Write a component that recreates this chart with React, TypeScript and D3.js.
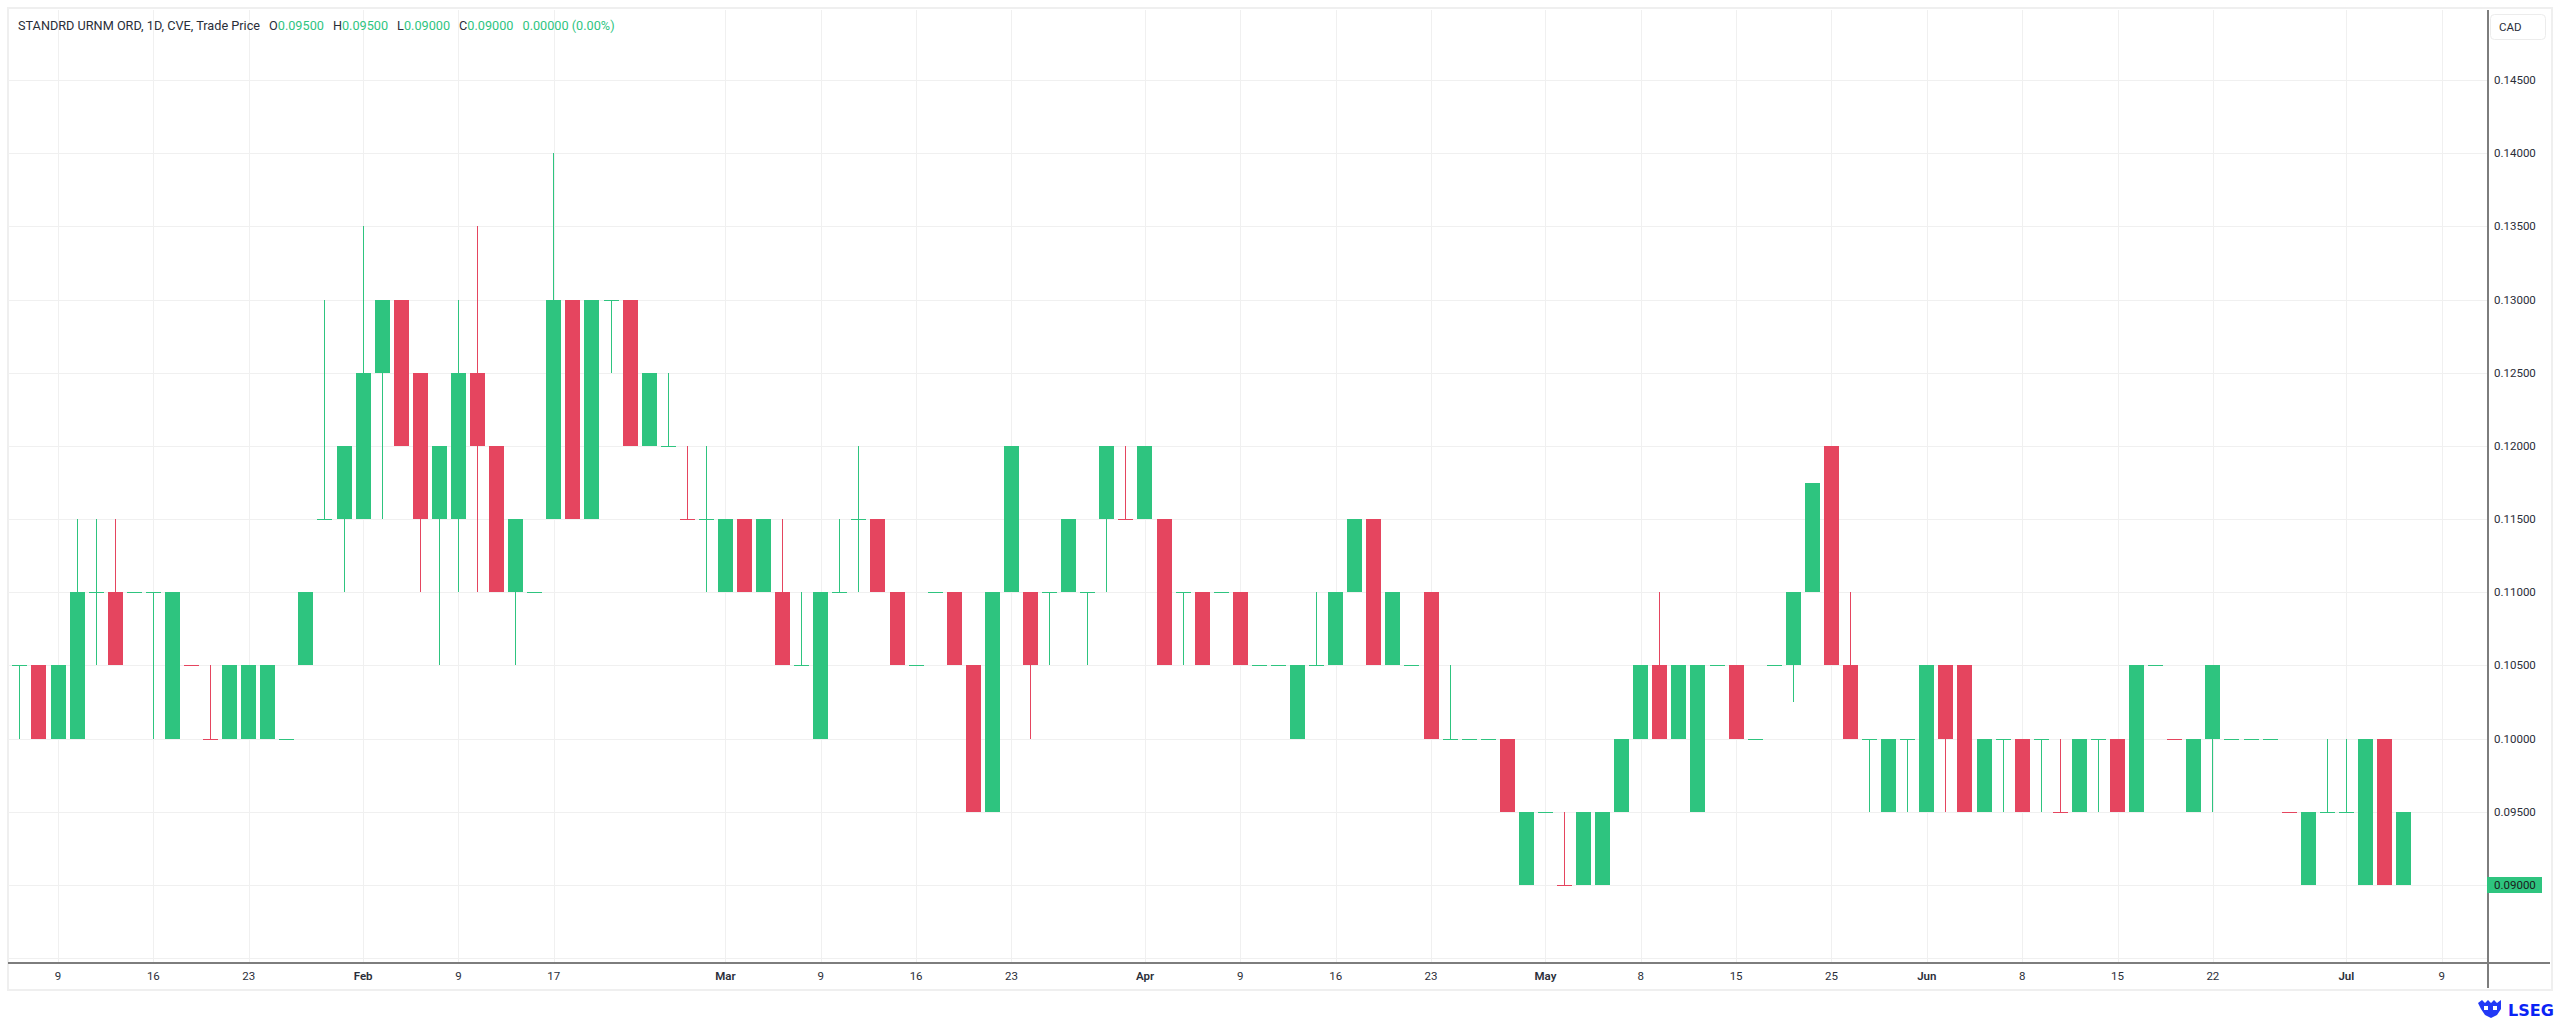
import React from "react";
import * as d3 from "d3";

// ---- data (CVE: STANDRD URNM ORD, daily, 2026) ----
const dates = [
  "2026-01-07","2026-01-08","2026-01-09","2026-01-12","2026-01-13","2026-01-14","2026-01-15","2026-01-16",
  "2026-01-19","2026-01-20","2026-01-21","2026-01-22","2026-01-23","2026-01-26","2026-01-27","2026-01-28",
  "2026-01-29","2026-01-30","2026-02-02","2026-02-03","2026-02-04","2026-02-05","2026-02-06","2026-02-09",
  "2026-02-10","2026-02-11","2026-02-12","2026-02-13","2026-02-17","2026-02-18","2026-02-19","2026-02-20",
  "2026-02-23","2026-02-24","2026-02-25","2026-02-26","2026-02-27","2026-03-02","2026-03-03","2026-03-04",
  "2026-03-05","2026-03-06","2026-03-09","2026-03-10","2026-03-11","2026-03-12","2026-03-13","2026-03-16",
  "2026-03-17","2026-03-18","2026-03-19","2026-03-20","2026-03-23","2026-03-24","2026-03-25","2026-03-26",
  "2026-03-27","2026-03-30","2026-03-31","2026-04-01","2026-04-02","2026-04-06","2026-04-07","2026-04-08",
  "2026-04-09","2026-04-10","2026-04-13","2026-04-14","2026-04-15","2026-04-16","2026-04-17","2026-04-20",
  "2026-04-21","2026-04-22","2026-04-23","2026-04-24","2026-04-27","2026-04-28","2026-04-29","2026-04-30",
  "2026-05-01","2026-05-04","2026-05-05","2026-05-06","2026-05-07","2026-05-08","2026-05-11","2026-05-12",
  "2026-05-13","2026-05-14","2026-05-15","2026-05-19","2026-05-20","2026-05-21","2026-05-22","2026-05-25",
  "2026-05-26","2026-05-27","2026-05-28","2026-05-29","2026-06-01","2026-06-02","2026-06-03","2026-06-04",
  "2026-06-05","2026-06-08","2026-06-09","2026-06-10","2026-06-11","2026-06-12","2026-06-15","2026-06-16",
  "2026-06-17","2026-06-18","2026-06-19","2026-06-22","2026-06-23","2026-06-24","2026-06-25","2026-06-26",
  "2026-06-29","2026-06-30","2026-07-02","2026-07-03","2026-07-06","2026-07-07",
];

const opens = [
  0.105,0.105,0.100,0.100,0.110,0.110,0.110,0.110,
  0.100,0.105,0.100,0.105,0.105,0.105,0.100,0.105,
  0.115,0.115,0.115,0.125,0.130,0.125,0.115,0.115,
  0.125,0.120,0.115,0.110,0.115,0.130,0.115,0.130,
  0.130,0.125,0.120,0.115,0.115,0.110,0.115,0.110,
  0.110,0.105,0.100,0.110,0.115,0.115,0.110,0.105,
  0.110,0.110,0.105,0.095,0.110,0.110,0.110,0.115,
  0.110,0.115,0.115,0.115,0.115,0.110,0.110,0.110,
  0.110,0.105,0.105,0.100,0.105,0.105,0.110,0.115,
  0.110,0.105,0.110,0.100,0.100,0.100,0.100,0.090,
  0.095,0.090,0.090,0.090,0.095,0.100,0.105,0.100,
  0.095,0.105,0.105,0.100,0.105,0.105,0.110,0.120,
  0.105,0.100,0.095,0.100,0.095,0.105,0.105,0.095,
  0.100,0.100,0.100,0.095,0.095,0.100,0.100,0.095,
  0.105,0.100,0.095,0.105,0.100,0.100,0.100,0.095,
  0.090,0.095,0.095,0.090,0.100,0.095,
];

const highs = [
  0.105,0.105,0.105,0.115,0.115,0.115,0.110,0.110,
  0.110,0.105,0.105,0.105,0.105,0.105,0.100,0.110,
  0.130,0.120,0.135,0.130,0.130,0.125,0.120,0.130,
  0.135,0.120,0.115,0.110,0.140,0.130,0.130,0.130,
  0.130,0.125,0.125,0.120,0.120,0.115,0.115,0.115,
  0.115,0.110,0.110,0.115,0.120,0.115,0.110,0.105,
  0.110,0.110,0.105,0.110,0.120,0.110,0.110,0.115,
  0.110,0.120,0.120,0.120,0.115,0.110,0.110,0.110,
  0.110,0.105,0.105,0.105,0.110,0.110,0.115,0.115,
  0.110,0.105,0.110,0.105,0.100,0.100,0.100,0.095,
  0.095,0.095,0.095,0.095,0.100,0.105,0.110,0.105,
  0.105,0.105,0.105,0.100,0.105,0.110,0.1175,0.120,
  0.110,0.100,0.100,0.100,0.105,0.105,0.105,0.100,
  0.100,0.100,0.100,0.100,0.100,0.100,0.100,0.105,
  0.105,0.100,0.100,0.105,0.100,0.100,0.100,0.095,
  0.095,0.100,0.100,0.100,0.100,0.095,
];

const lows = [
  0.100,0.100,0.100,0.100,0.105,0.105,0.110,0.100,
  0.100,0.105,0.100,0.100,0.100,0.100,0.100,0.105,
  0.115,0.110,0.115,0.115,0.120,0.110,0.105,0.110,
  0.110,0.110,0.105,0.110,0.115,0.115,0.115,0.125,
  0.120,0.120,0.120,0.115,0.110,0.110,0.110,0.110,
  0.105,0.105,0.100,0.110,0.110,0.110,0.105,0.105,
  0.110,0.105,0.095,0.095,0.110,0.100,0.105,0.110,
  0.105,0.110,0.115,0.115,0.105,0.105,0.105,0.110,
  0.105,0.105,0.105,0.100,0.105,0.105,0.110,0.105,
  0.105,0.105,0.100,0.100,0.100,0.100,0.095,0.090,
  0.095,0.090,0.090,0.090,0.095,0.100,0.100,0.100,
  0.095,0.105,0.100,0.100,0.105,0.1025,0.110,0.105,
  0.100,0.095,0.095,0.095,0.095,0.095,0.095,0.095,
  0.095,0.095,0.095,0.095,0.095,0.095,0.095,0.095,
  0.105,0.100,0.095,0.095,0.100,0.100,0.100,0.095,
  0.090,0.095,0.095,0.090,0.090,0.090,
];

const closes = [
  0.105,0.100,0.105,0.110,0.110,0.105,0.110,0.110,
  0.110,0.105,0.100,0.100,0.100,0.100,0.100,0.110,
  0.115,0.120,0.125,0.130,0.120,0.115,0.120,0.125,
  0.120,0.110,0.110,0.110,0.130,0.115,0.130,0.130,
  0.120,0.120,0.120,0.115,0.115,0.115,0.110,0.115,
  0.105,0.105,0.110,0.110,0.115,0.110,0.105,0.105,
  0.110,0.105,0.095,0.110,0.120,0.105,0.110,0.110,
  0.110,0.120,0.115,0.120,0.105,0.110,0.105,0.110,
  0.105,0.105,0.105,0.105,0.105,0.110,0.115,0.105,
  0.105,0.105,0.100,0.100,0.100,0.100,0.095,0.095,
  0.095,0.090,0.095,0.095,0.100,0.105,0.100,0.105,
  0.105,0.105,0.100,0.100,0.105,0.110,0.1175,0.105,
  0.100,0.100,0.100,0.100,0.105,0.100,0.095,0.100,
  0.100,0.095,0.100,0.095,0.100,0.100,0.095,0.105,
  0.105,0.100,0.100,0.100,0.100,0.100,0.100,0.095,
  0.095,0.095,0.095,0.100,0.090,0.090,
];

// sessions after the last bar that the time axis still covers
const futureSessions = ["2026-07-08", "2026-07-09"];

const tickDates = [
  "2026-01-09","2026-01-16","2026-01-23","2026-02-02","2026-02-09","2026-02-17","2026-03-02","2026-03-09",
  "2026-03-16","2026-03-23","2026-04-01","2026-04-09","2026-04-16","2026-04-23","2026-05-01","2026-05-08",
  "2026-05-15","2026-05-25","2026-06-01","2026-06-08","2026-06-15","2026-06-22","2026-07-02","2026-07-09",
];
const tickLabels = [
  "9","16","23","Feb","9","17","Mar","9","16","23","Apr","9","16","23","May","8","15","25","Jun","8","15","22","Jul","9",
];
const monthLabels = ["Jan","Feb","Mar","Apr","May","Jun","Jul","Aug","Sep","Oct","Nov","Dec"];

const priceTicks = [0.085,0.09,0.095,0.1,0.105,0.11,0.115,0.12,0.125,0.13,0.135,0.14,0.145,0.15];
const priceLabelTicks = [0.095,0.1,0.105,0.11,0.115,0.12,0.125,0.13,0.135,0.14,0.145];

const instrument = "STANDRD URNM ORD, 1D, CVE, Trade Price";
const currency = "CAD";

// ---- layout ----
const W = 2560;
const H = 1021;
const plotLeft = 8;
const plotTop = 10;
const plotRight = 2487;
const plotBottom = 962;
const frameRight = 2550;
const frameBottom = 988;

const UP = "#2ec47f";
const DOWN = "#e5455f";
const GRID = "#f0f0f0";
const AXIS = "#7d7d7d";
const TEXT = "#2a2e39";
const FONT = "Roboto, 'Noto Sans', sans-serif";

export default function App() {
  const sessions = [...dates, ...futureSessions];
  const idx = new Map(sessions.map((d, i) => [d, i] as [string, number]));

  const x = d3
    .scaleLinear()
    .domain([idx.get("2026-01-09")!, idx.get("2026-07-09")!])
    .range([58, 2441.7]);
  const y = d3.scaleLinear().domain([0.09, 0.145]).range([885, 80]);

  const fmt = d3.format(".5f");
  const bodyW = 15;

  const bars = dates.map((d, i) => {
    const prev = i > 0 ? closes[i - 1] : closes[i];
    const up = closes[i] >= prev;
    return { d, i, o: opens[i], h: highs[i], l: lows[i], c: closes[i], up };
  });

  const last = bars[bars.length - 1];
  const prevClose = closes[closes.length - 2];
  const chg = last.c - prevClose;
  const chgPct = (chg / prevClose) * 100;
  const headColor = chg >= 0 ? UP : DOWN;

  return (
    <svg
      width={W}
      height={H}
      viewBox={`0 0 ${W} ${H}`}
      style={{ position: "absolute", left: 0, top: 0, display: "block", background: "#ffffff" }}
      fontFamily={FONT}
    >
      <rect x={0} y={0} width={W} height={H} fill="#ffffff" />
      {/* widget frame */}
      <rect x={8} y={8} width={frameRight - 8 + 2} height={frameBottom - 8 + 2} fill="none" stroke="#efefef" strokeWidth={2} />

      {/* grid */}
      <g shapeRendering="crispEdges">
        {tickDates.map((td) => {
          const xx = Math.round(x(idx.get(td)!)) + 0.5;
          return <line key={"vg" + td} x1={xx} x2={xx} y1={plotTop} y2={plotBottom} stroke={GRID} strokeWidth={1} />;
        })}
        {priceTicks
          .filter((p) => y(p) > plotTop && y(p) < plotBottom)
          .map((p) => {
            const yy = Math.round(y(p)) + 0.5;
            return <line key={"hg" + p} x1={plotLeft} x2={plotRight} y1={yy} y2={yy} stroke={GRID} strokeWidth={1} />;
          })}
      </g>

      {/* candles */}
      <g shapeRendering="crispEdges">
        {bars.map((b) => {
          const cx = Math.round(x(b.i) - 0.5);
          const col = b.up ? UP : DOWN;
          const top = Math.round(y(Math.max(b.o, b.c)));
          const bot = Math.round(y(Math.min(b.o, b.c)));
          const hT = Math.round(y(b.h));
          const lB = Math.round(y(b.l));
          return (
            <g key={b.d}>
              {lB > hT && <rect x={cx} y={hT} width={1} height={lB - hT} fill={col} />}
              <rect x={cx - (bodyW - 1) / 2} y={top} width={bodyW} height={Math.max(1, bot - top)} fill={col} />
            </g>
          );
        })}
      </g>

      {/* axes lines */}
      <g shapeRendering="crispEdges">
        <rect x={plotLeft} y={plotBottom} width={frameRight - plotLeft} height={2} fill={AXIS} />
        <rect x={plotRight} y={plotTop} width={1.5} height={frameBottom - plotTop} fill={AXIS} />
      </g>

      {/* time axis labels */}
      <g fontSize={11.5} fill={TEXT} textAnchor="middle">
        {tickDates.map((td, k) => {
          const isMonth = monthLabels.includes(tickLabels[k]);
          return (
            <text key={"tl" + td} x={x(idx.get(td)!)} y={980} fontWeight={isMonth ? 600 : 400}>
              {tickLabels[k]}
            </text>
          );
        })}
      </g>

      {/* price axis labels */}
      <g fontSize={11.5} fill={TEXT}>
        {priceLabelTicks.map((p) => (
          <text key={"pl" + p} x={2494} y={y(p)} dy="0.35em">
            {fmt(p)}
          </text>
        ))}
      </g>

      {/* last price tag */}
      <rect x={plotRight} y={y(last.c) - 8} width={55} height={16} fill={headColor} />
      <text x={2494} y={y(last.c)} dy="0.35em" fontSize={11.5} fill="#1b1b1b">
        {fmt(last.c)}
      </text>

      {/* currency box */}
      <rect x={2490.5} y={14.5} width={55} height={25} rx={4} fill="#ffffff" stroke="#ececec" />
      <text x={2499} y={27} dy="0.35em" fontSize={11.5} fill={TEXT}>
        {currency}
      </text>

      {/* header */}
      <text x={18} y={30} fontSize={12.7} fill={TEXT}>
        <tspan>{instrument}</tspan>
        <tspan dx={9}>O</tspan>
        <tspan fill={headColor}>{fmt(last.o)}</tspan>
        <tspan dx={9}>H</tspan>
        <tspan fill={headColor}>{fmt(last.h)}</tspan>
        <tspan dx={9}>L</tspan>
        <tspan fill={headColor}>{fmt(last.l)}</tspan>
        <tspan dx={9}>C</tspan>
        <tspan fill={headColor}>{fmt(last.c)}</tspan>
        <tspan dx={9} fill={headColor}>
          {`${fmt(chg)} (${chgPct.toFixed(2)}%)`}
        </tspan>
      </text>

      {/* LSEG logo */}
      <g fill="#0a23f5">
        <path d="M2478,1003 l4,-3 l3,3 l3,-3 l3,3 l3,-3 l3,3 l4,-3 l0,9 l-4,6 l-6,3 l-6,-3 l-4,-6 z" opacity={0.9} />
        <rect x={2484} y={1006} width={4} height={4} fill="#ffffff" />
        <rect x={2493} y={1006} width={4} height={4} fill="#ffffff" />
        <text x={2508} y={1016} fontSize={16} fontWeight={700} fontFamily="'DejaVu Sans', sans-serif">
          LSEG
        </text>
      </g>
    </svg>
  );
}
